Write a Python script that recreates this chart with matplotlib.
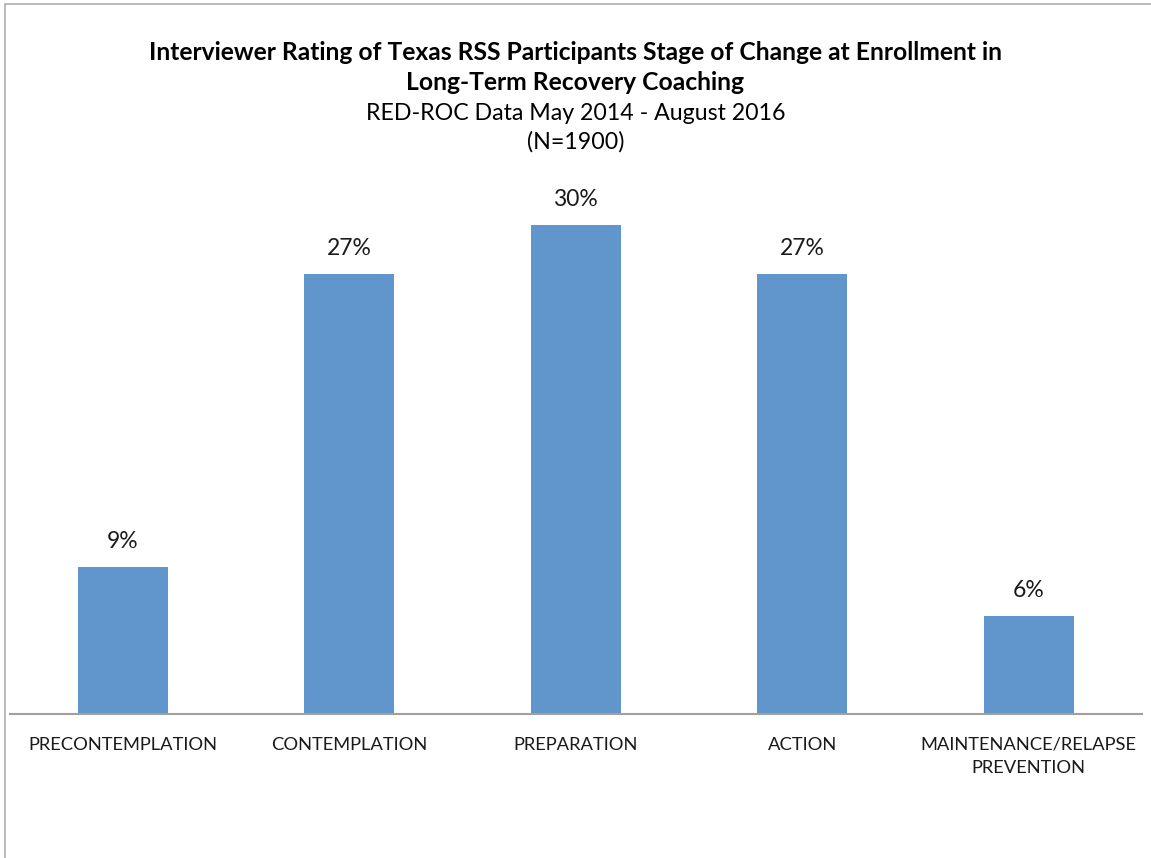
import matplotlib.pyplot as plt
from matplotlib.patches import Rectangle

categories = ["PRECONTEMPLATION", "CONTEMPLATION", "PREPARATION", "ACTION",
              "MAINTENANCE/RELAPSE\nPREVENTION"]
values = [9, 27, 30, 27, 6]
labels = ["9%", "27%", "30%", "27%", "6%"]

W, H = 1151, 858
fig = plt.figure(figsize=(W / 100, H / 100), dpi=100)
plt.rcParams['font.family'] = ['Lato', 'DejaVu Sans']

# outer chart border
fig.patches.append(Rectangle((5 / W, -0.1), 1.2, 1.1 - 4.5 / H, transform=fig.transFigure,
                             fill=False, edgecolor="#B0B0B0", linewidth=1.2))

ax = fig.add_axes([9.75 / W, 144 / H, (1142 - 9.75) / W, (714 - 180) / H])
x = range(len(values))
ax.bar(x, values, width=0.397, color="#6096CB")
ax.set_xlim(-0.5, len(values) - 0.5)
ax.set_ylim(0, 534 / 16.3)

for xi, v, lab in zip(x, values, labels):
    ax.annotate(lab, (xi, v), xytext=(0, 11), textcoords="offset points",
                ha="center", va="bottom", fontsize=16.5, color="#1a1a1a")

for s in ["top", "right", "left"]:
    ax.spines[s].set_visible(False)
ax.spines["bottom"].set_color("#A0A0A0")
ax.spines["bottom"].set_linewidth(1.5)
ax.set_yticks([])
ax.set_xticks(list(x))
ax.set_xticklabels(categories, fontsize=13.2, color="#1a1a1a", linespacing=1.55)
ax.tick_params(axis="x", length=0, pad=16.5)

fig.text(0.5, 1 - 52 / H, "Interviewer Rating of Texas RSS Participants Stage of Change at Enrollment in",
         ha="center", va="center", fontsize=17.75, fontweight="bold")
fig.text(0.5, 1 - 82 / H, "Long-Term Recovery Coaching",
         ha="center", va="center", fontsize=17.75, fontweight="bold")
fig.text(0.5, 1 - 113 / H, "RED-ROC Data May 2014 - August 2016",
         ha="center", va="center", fontsize=16.7)
fig.text(0.5, 1 - 142 / H, "(N=1900)",
         ha="center", va="center", fontsize=16.7)

fig.savefig("out.png", dpi=100)
